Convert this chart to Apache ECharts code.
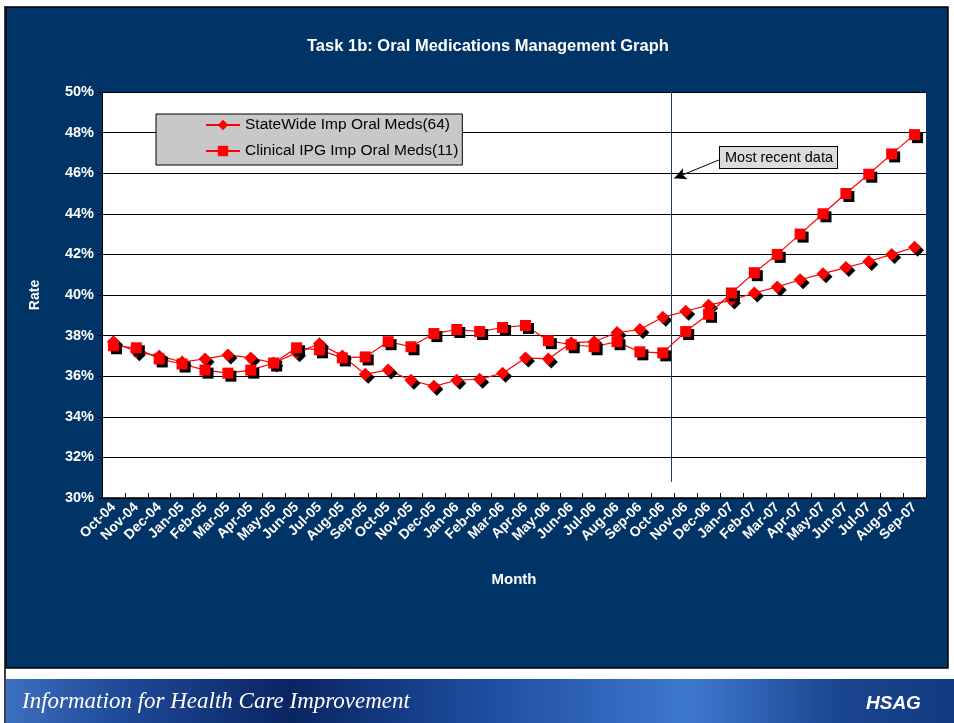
<!DOCTYPE html>
<html>
<head>
<meta charset="utf-8">
<title>Task 1b: Oral Medications Management Graph</title>
<script src="https://cdn.jsdelivr.net/npm/echarts@6/dist/echarts.min.js"></script>
<style>
  html, body { margin: 0; padding: 0; background: #fff; }
  #chart { width: 954px; height: 723px; }
</style>
</head>
<body>
<div id="chart"></div>
<script>
// months on the x axis
const months = [
  "Oct-04", "Nov-04", "Dec-04", "Jan-05", "Feb-05", "Mar-05", "Apr-05", "May-05", "Jun-05",
  "Jul-05", "Aug-05", "Sep-05", "Oct-05", "Nov-05", "Dec-05", "Jan-06", "Feb-06", "Mar-06",
  "Apr-06", "May-06", "Jun-06", "Jul-06", "Aug-06", "Sep-06", "Oct-06", "Nov-06", "Dec-06",
  "Jan-07", "Feb-07", "Mar-07", "Apr-07", "May-07", "Jun-07", "Jul-07", "Aug-07", "Sep-07"
];

// rates in percent
const stateWide = [
  37.7, 37.2, 37.0, 36.7, 36.85, 37.05, 36.9, 36.65, 37.15,
  37.6, 37.0, 36.1, 36.3, 35.8, 35.5, 35.8, 35.85, 36.15,
  36.9, 36.85, 37.65, 37.7, 38.15, 38.3, 38.9, 39.2, 39.5,
  39.75, 40.1, 40.4, 40.75, 41.05, 41.35, 41.65, 42.0, 42.35
];
const clinicalIpg = [
  37.5, 37.4, 36.85, 36.6, 36.3, 36.15, 36.3, 36.65, 37.4,
  37.3, 36.9, 36.95, 37.7, 37.45, 38.1, 38.3, 38.2, 38.4,
  38.5, 37.75, 37.55, 37.45, 37.7, 37.2, 37.15, 38.2, 39.05,
  40.1, 41.1, 42.0, 43.0, 44.0, 45.0, 45.95, 46.95, 47.9
];

const seriesNames = ["StateWide Imp Oral Meds(64)", "Clinical IPG Imp Oral Meds(11)"];
const recentLabel = "Most recent data";

const font = "Arial, 'Liberation Sans', sans-serif";
const navy = "#003366";

const chart = echarts.init(document.getElementById("chart"), null, { renderer: "canvas" });

const shadow = {
  shadowColor: "#000",
  shadowBlur: 0,
  shadowOffsetX: 3,
  shadowOffsetY: 3
};

const option = {
  animation: false,
  backgroundColor: "#fff",
  title: {
    text: "Task 1b: Oral Medications Management Graph",
    left: 302,
    top: 33,
    textStyle: { color: "#fff", fontFamily: font, fontSize: 16.5, fontWeight: "bold" }
  },
  grid: {
    left: 102,
    right: 28,
    top: 92,
    bottom: 225,
    show: true,
    backgroundColor: "#fff",
    borderWidth: 0
  },
  legend: {
    data: seriesNames,
    orient: "vertical",
    left: 156,
    top: 114,
    backgroundColor: "#c8c8c8",
    borderColor: "#000",
    borderWidth: 1,
    borderRadius: 0,
    padding: [3, 4, 6, 49],
    itemGap: 10,
    itemWidth: 34,
    itemHeight: 13,
    itemStyle: { shadowColor: "transparent", shadowOffsetX: 0, shadowOffsetY: 0 },
    textStyle: { color: "#000", fontFamily: font, fontSize: 15.5 }
  },
  xAxis: [
    {
      type: "category",
      data: months,
      boundaryGap: true,
      name: "Month",
      nameLocation: "middle",
      nameGap: 74,
      nameTextStyle: { color: "#fff", fontFamily: font, fontSize: 15, fontWeight: "bold" },
      axisLine: { show: true, lineStyle: { color: "#000", width: 1.5 } },
      axisTick: { show: true, inside: true, length: 5, lineStyle: { color: "#000" } },
      axisLabel: {
        interval: 0,
        rotate: 45,
        margin: 7,
        color: "#fff",
        fontFamily: font,
        fontSize: 14,
        fontWeight: "bold"
      },
      splitLine: { show: false }
    },
    {
      // hidden helper axis so the annotation can sit between months
      type: "value",
      min: -0.5,
      max: 35.5,
      show: false
    }
  ],
  yAxis: {
    type: "value",
    min: 30,
    max: 50,
    interval: 2,
    name: "Rate",
    nameLocation: "middle",
    nameGap: 60,
    nameRotate: 90,
    nameTextStyle: { color: "#fff", fontFamily: font, fontSize: 14, fontWeight: "bold" },
    axisLine: { show: true, onZero: false, lineStyle: { color: "#000", width: 1 } },
    axisTick: { show: true, length: 4, lineStyle: { color: "#000" } },
    axisLabel: {
      formatter: "{value}%",
      margin: 8,
      color: "#fff",
      fontFamily: font,
      fontSize: 14.5,
      fontWeight: "bold"
    },
    splitLine: { show: true, lineStyle: { color: "#000", width: 1 } }
  },
  series: [
    {
      name: seriesNames[0],
      type: "line",
      data: stateWide,
      symbol: "diamond",
      symbolSize: 13,
      lineStyle: { color: "#ff0000", width: 1.2 },
      itemStyle: Object.assign({ color: "#ff0000" }, shadow),
      z: 3
    },
    {
      name: seriesNames[1],
      type: "line",
      data: clinicalIpg,
      symbol: "rect",
      symbolSize: 11,
      lineStyle: { color: "#ff0000", width: 1.2 },
      itemStyle: Object.assign({ color: "#ff0000" }, shadow),
      z: 4
    },
    {
      name: "recent-divider",
      type: "line",
      xAxisIndex: 1,
      data: [],
      silent: true,
      markLine: {
        silent: true,
        symbol: ["none", "none"],
        label: { show: false },
        lineStyle: { color: "#1f3864", width: 1, type: "solid" },
        data: [[{ coord: [24.35, 50] }, { coord: [24.35, 30.8] }]]
      }
    },
    {
      name: "recent-arrow",
      type: "line",
      xAxisIndex: 1,
      data: [],
      silent: true,
      markLine: {
        silent: true,
        symbol: ["none", "arrow"],
        symbolSize: [9, 12],
        label: { show: false },
        lineStyle: { color: "#000", width: 1, type: "solid" },
        data: [[{ coord: [26.45, 46.65] }, { coord: [24.5, 45.75] }]]
      }
    }
  ],
  graphic: [
    // navy panel behind the chart
    {
      type: "rect",
      z: -10,
      silent: true,
      shape: { x: 6, y: 7, width: 942, height: 661 },
      style: { fill: navy, stroke: "#000", lineWidth: 1.5 }
    },
    {
      type: "line",
      z: -10,
      silent: true,
      shape: { x1: 5, y1: 6, x2: 5, y2: 723 },
      style: { stroke: "#000", lineWidth: 1.5 }
    },
    // footer banner
    {
      type: "rect",
      z: -10,
      silent: true,
      shape: { x: 6, y: 679, width: 948, height: 44 },
      style: {
        fill: new echarts.graphic.LinearGradient(0, 0, 1, 0, [
          { offset: 0, color: "#3d6fc0" },
          { offset: 0.12, color: "#1f4a98" },
          { offset: 0.3, color: "#0a2561" },
          { offset: 0.5, color: "#1d4c9e" },
          { offset: 0.72, color: "#3f78d0" },
          { offset: 0.88, color: "#1a468f" },
          { offset: 1, color: "#123a80" }
        ])
      }
    },
    {
      type: "text",
      z: -5,
      silent: true,
      left: 22,
      top: 690,
      style: {
        text: "Information for Health Care Improvement",
        fill: "#fff",
        font: "italic 23px 'Liberation Serif', 'DejaVu Serif', serif"
      }
    },
    {
      type: "text",
      z: -5,
      silent: true,
      left: 866,
      top: 694,
      style: {
        text: "HSAG",
        fill: "#fff",
        font: "italic bold 19px Arial, 'Liberation Sans', sans-serif"
      }
    },
    // annotation box
    {
      type: "text",
      z: 10,
      silent: true,
      left: 719,
      top: 146,
      style: {
        text: recentLabel,
        fill: "#000",
        font: "14.5px Arial, 'Liberation Sans', sans-serif",
        backgroundColor: "#dcdcdc",
        borderColor: "#000",
        borderWidth: 1,
        padding: [3, 4, 3, 5]
      }
    }
  ]
};

chart.setOption(option);
</script>
</body>
</html>
